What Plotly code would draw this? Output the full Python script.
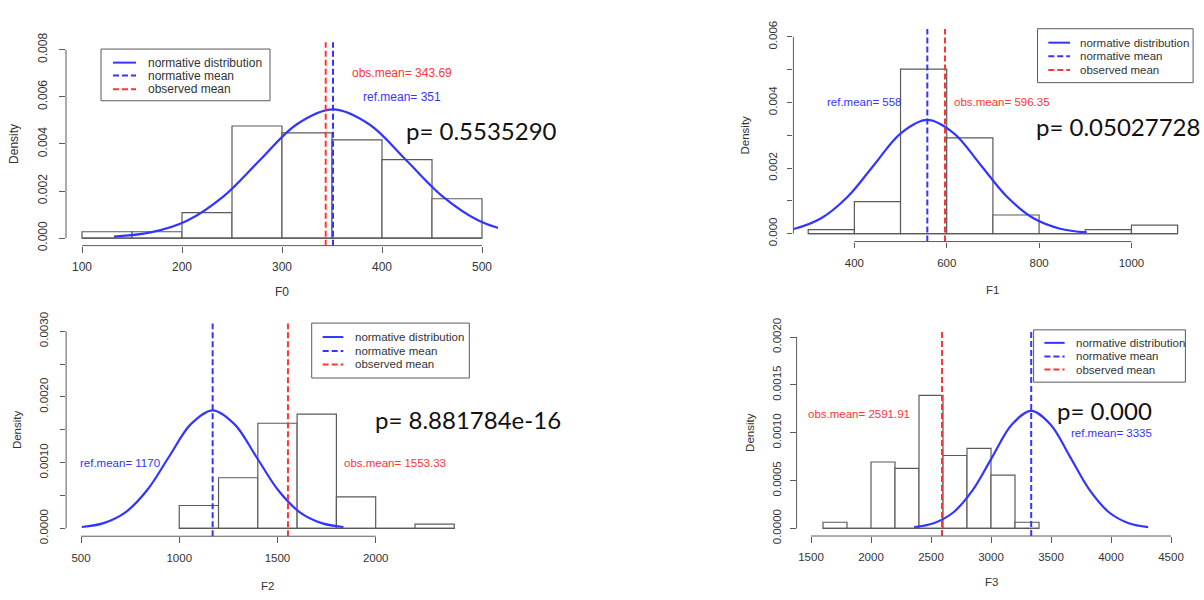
import plotly.graph_objects as go

W, H = 1204, 600

# ---------------- data ----------------
# F0 panel
f0_bin_left = [100, 150, 200, 250, 300, 350, 400, 450]
f0_bin_width = 50
f0_density = [0.00027, 0.00027, 0.00108, 0.00476, 0.00447, 0.00417, 0.00333, 0.00167]
f0_curve_x = [132, 168.5, 205, 241.5, 278, 314.5, 351, 387.5, 424, 460.5, 497, 533.5, 570]
f0_curve_y = [0.000061, 0.00024, 0.00074, 0.001775, 0.003315, 0.004823, 0.005465,
              0.004823, 0.003315, 0.001775, 0.00074, 0.00024, 0.000061]
f0_ref_mean = 351
f0_obs_mean = 343.69
f0_p_text = "p= 0.5535290"
f0_xticks = [100, 200, 300, 400, 500]
f0_xtick_labels = ["100", "200", "300", "400", "500"]
f0_yticks = [0, 0.002, 0.004, 0.006, 0.008]
f0_ytick_labels = ["0.000", "0.002", "0.004", "0.006", "0.008"]

# F1 panel
f1_bin_left = [300, 400, 500, 600, 700, 800, 900, 1000]
f1_bin_width = 100
f1_density = [0.000125, 0.00098, 0.00502, 0.00292, 0.00057, 0.0, 0.000125, 0.00026]
f1_curve_x = [213, 270.5, 328, 385.5, 443, 500.5, 558, 615.5, 673, 730.5, 788, 845.5, 903]
f1_curve_y = [0.0000385, 0.000152, 0.000469, 0.001126, 0.002104, 0.003061, 0.003469,
              0.003061, 0.002104, 0.001126, 0.000469, 0.000152, 0.0000385]
f1_ref_mean = 558
f1_obs_mean = 596.35
f1_p_text = "p= 0.05027728"
f1_xticks = [400, 600, 800, 1000]
f1_xtick_labels = ["400", "600", "800", "1000"]
f1_yticks = [0, 0.001, 0.002, 0.003, 0.004, 0.005, 0.006]
f1_ytick_labels = ["0.000", "", "0.002", "", "0.004", "", "0.006"]

# F2 panel
f2_bin_left = [1000, 1200, 1400, 1600, 1800, 2000, 2200]
f2_bin_width = 200
f2_density = [0.000348, 0.00077, 0.0016, 0.00174, 0.00048, 0.0, 0.000063]
f2_curve_x = [504, 615, 726, 837, 948, 1059, 1170, 1281, 1392, 1503, 1614, 1725, 1836]
f2_curve_y = [0.00002, 0.000079, 0.000243, 0.000583, 0.00109, 0.001586, 0.001797,
              0.001586, 0.00109, 0.000583, 0.000243, 0.000079, 0.00002]
f2_ref_mean = 1170
f2_obs_mean = 1553.33
f2_p_text = "p= 8.881784e-16"
f2_xticks = [500, 1000, 1500, 2000]
f2_xtick_labels = ["500", "1000", "1500", "2000"]
f2_yticks = [0, 0.0005, 0.001, 0.0015, 0.002, 0.0025, 0.003]
f2_ytick_labels = ["0.0000", "", "0.0010", "", "0.0020", "", "0.0030"]

# F3 panel
f3_bin_left = [1600, 1800, 2000, 2200, 2400, 2600, 2800, 3000, 3200]
f3_bin_width = 200
f3_density = [0.000064, 0.0, 0.000694, 0.000627, 0.00139, 0.000762, 0.000836, 0.000557, 0.000064]
f3_curve_x = [2360, 2522.5, 2685, 2847.5, 3010, 3172.5, 3335, 3497.5, 3660, 3822.5, 3985, 4147.5, 4310]
f3_curve_y = [0.0000136, 0.000054, 0.000166, 0.000399, 0.000745, 0.001083, 0.001228,
              0.001083, 0.000745, 0.000399, 0.000166, 0.000054, 0.0000136]
f3_ref_mean = 3335
f3_obs_mean = 2591.91
f3_p_text = "p= 0.000"
f3_xticks = [1500, 2000, 2500, 3000, 3500, 4000, 4500]
f3_xtick_labels = ["1500", "2000", "2500", "3000", "3500", "4000", "4500"]
f3_yticks = [0, 0.0005, 0.001, 0.0015, 0.002]
f3_ytick_labels = ["0.0000", "0.0005", "0.0010", "0.0015", "0.0020"]

legend_labels = ["normative distribution", "normative mean", "observed mean"]

# ---------------- styles ----------------
FONT = "Liberation Sans, Arial, sans-serif"
PFONT = "Lato, sans-serif"
BLUE = "#3434ff"
RED = "#ff3434"
AXC = "#5a5a5a"
TXT = "#333333"
BARC = "#5a5a5a"
DASH = "6px,3px"

panels = [
    dict(title="F0", left=f0_bin_left, bw=f0_bin_width, dens=f0_density,
         cx=f0_curve_x, cy=f0_curve_y, ref=f0_ref_mean, obs=f0_obs_mean, p=f0_p_text,
         xt=f0_xticks, xtl=f0_xtick_labels, yt=f0_yticks, ytl=f0_ytick_labels,
         xlim=(100, 500), ylim=(0, 0.008),
         ref_pos=(420, 0.006), obs_pos=(420, 0.007),
         dom_x=(66, 498), dom_y=(32.2, 242.3), fs=12, tl=6, xso=4, yso=7,
         ytitle_x=14, xtitle_y=290,
         leg=dict(box=(101, 39.3, 270, 92.7), rows=(53.3, 66.7, 80.7), samp=(113, 136), tx=146.7),
         p_pos=(404, 123.7)),
    dict(title="F1", left=f1_bin_left, bw=f1_bin_width, dens=f1_density,
         cx=f1_curve_x, cy=f1_curve_y, ref=f1_ref_mean, obs=f1_obs_mean, p=f1_p_text,
         xt=f1_xticks, xtl=f1_xtick_labels, yt=f1_yticks, ytl=f1_ytick_labels,
         xlim=(300, 1100), ylim=(0, 0.006),
         ref_pos=(420, 0.004), obs_pos=(720, 0.004),
         dom_x=(793.4, 1192.4), dom_y=(18.6, 238.1), fs=11.5, tl=5.5, xso=5, yso=5,
         ytitle_x=745.2, xtitle_y=288.3,
         leg=dict(box=(1037.5, 18.3, 1193.1, 74), rows=(32.7, 46.7, 61), samp=(1048.3, 1070), tx=1079.3),
         p_pos=(1034, 119.7)),
    dict(title="F2", left=f2_bin_left, bw=f2_bin_width, dens=f2_density,
         cx=f2_curve_x, cy=f2_curve_y, ref=f2_ref_mean, obs=f2_obs_mean, p=f2_p_text,
         xt=f2_xticks, xtl=f2_xtick_labels, yt=f2_yticks, ytl=f2_ytick_labels,
         xlim=(500, 2400), ylim=(0, 0.003),
         ref_pos=(700, 0.001), obs_pos=(2100, 0.001),
         dom_x=(66.1, 469.2), dom_y=(322.6, 542.4), fs=11.5, tl=5.5, xso=5, yso=7,
         ytitle_x=17.3, xtitle_y=593.3,
         leg=dict(box=(311.7, 322.3, 469.3, 379), rows=(336.7, 351, 365), samp=(322.7, 343.3), tx=354),
         p_pos=(373, 421.7)),
    dict(title="F3", left=f3_bin_left, bw=f3_bin_width, dens=f3_density,
         cx=f3_curve_x, cy=f3_curve_y, ref=f3_ref_mean, obs=f3_obs_mean, p=f3_p_text,
         xt=f3_xticks, xtl=f3_xtick_labels, yt=f3_yticks, ytl=f3_ytick_labels,
         xlim=(1500, 4500), ylim=(0, 0.002),
         ref_pos=(4000, 0.001), obs_pos=(1900, 0.0012),
         dom_x=(796.6, 1185.4), dom_y=(328.8, 542.2), fs=11.5, tl=5.5, xso=5, yso=5,
         ytitle_x=750.2, xtitle_y=590,
         leg=dict(box=(1033.6, 329.3, 1185.4, 383.3), rows=(342.7, 356.7, 370.3), samp=(1044.4, 1064.6), tx=1074.6),
         p_pos=(1055, 413)),
]


def fx(px):
    return px / W


def fy(py):
    return 1 - py / H


fig = go.Figure()
shapes = []
annotations = []
layout = {}

for i, pnl in enumerate(panels, start=1):
    sfx = "" if i == 1 else str(i)
    xa, ya = "x" + sfx, "y" + sfx
    fs = pnl["fs"]

    # histogram bars
    fig.add_trace(go.Bar(
        x=pnl["left"], y=pnl["dens"], width=pnl["bw"], offset=0,
        xaxis=xa, yaxis=ya, showlegend=False,
        marker=dict(color="white", line=dict(color=BARC, width=1.2)),
        hoverinfo="skip"))
    # histogram baseline (covers empty bins)
    shapes.append(dict(type="line", xref=xa, yref=ya, layer="above",
                       x0=pnl["left"][0], x1=pnl["left"][-1] + pnl["bw"], y0=0, y1=0,
                       line=dict(color=BARC, width=1.2)))
    # normative curve
    fig.add_trace(go.Scatter(
        x=pnl["cx"], y=pnl["cy"], mode="lines", xaxis=xa, yaxis=ya,
        line=dict(color=BLUE, width=2.2, shape="spline"), showlegend=False,
        cliponaxis=True, hoverinfo="skip"))

    # mean lines
    shapes.append(dict(type="line", xref=xa, yref=ya + " domain",
                       x0=pnl["ref"], x1=pnl["ref"], y0=0, y1=1,
                       line=dict(color=BLUE, width=2, dash=DASH)))
    shapes.append(dict(type="line", xref=xa, yref=ya + " domain",
                       x0=pnl["obs"], x1=pnl["obs"], y0=0, y1=1,
                       line=dict(color=RED, width=2, dash=DASH)))

    # R-style axis lines (from first to last tick)
    shapes.append(dict(type="line", xref=xa, yref=ya + " domain",
                       x0=pnl["xt"][0], x1=pnl["xt"][-1], y0=0, y1=0,
                       line=dict(color=AXC, width=1)))
    shapes.append(dict(type="line", xref=xa + " domain", yref=ya,
                       x0=0, x1=0, y0=pnl["yt"][0], y1=pnl["yt"][-1],
                       line=dict(color=AXC, width=1)))

    xlo, xhi = pnl["xlim"]
    ylo, yhi = pnl["ylim"]
    xpad = 0.04 * (xhi - xlo)
    ypad = 0.04 * (yhi - ylo)
    tickfont = dict(family=FONT, size=fs, color=TXT)
    layout["xaxis" + sfx] = dict(
        domain=[fx(pnl["dom_x"][0]), fx(pnl["dom_x"][1])], anchor=ya,
        range=[xlo - xpad, xhi + xpad], showgrid=False, zeroline=False, showline=False,
        ticks="outside", ticklen=pnl["tl"], tickwidth=1, tickcolor=AXC,
        tickmode="array", tickvals=pnl["xt"], ticktext=pnl["xtl"], tickfont=tickfont,
        ticklabelstandoff=pnl["xso"], fixedrange=True)
    layout["yaxis" + sfx] = dict(
        domain=[fy(pnl["dom_y"][1]), fy(pnl["dom_y"][0])], anchor=xa,
        range=[ylo - ypad, yhi + ypad], showgrid=False, zeroline=False, showline=False,
        ticks="outside", ticklen=pnl["tl"], tickwidth=1, tickcolor=AXC,
        tickmode="array", tickvals=pnl["yt"], ticktext=pnl["ytl"], tickfont=tickfont,
        tickangle=-90, ticklabelstandoff=pnl["yso"], fixedrange=True)

    # axis titles
    annotations.append(dict(text=pnl["title"], xref=xa + " domain", x=0.5,
                            yref="paper", y=fy(pnl["xtitle_y"]), showarrow=False,
                            xanchor="center", yanchor="middle",
                            font=dict(family=FONT, size=fs, color=TXT)))
    annotations.append(dict(text="Density", xref="paper", x=fx(pnl["ytitle_x"]),
                            yref=ya + " domain", y=0.5, showarrow=False, textangle=-90,
                            xanchor="center", yanchor="middle",
                            font=dict(family=FONT, size=fs, color=TXT)))

    # mean labels
    annotations.append(dict(text="ref.mean= " + str(pnl["ref"]), xref=xa, yref=ya,
                            x=pnl["ref_pos"][0], y=pnl["ref_pos"][1], showarrow=False,
                            xanchor="center", yanchor="middle",
                            font=dict(family=FONT, size=fs, color=BLUE)))
    annotations.append(dict(text="obs.mean= " + str(pnl["obs"]), xref=xa, yref=ya,
                            x=pnl["obs_pos"][0], y=pnl["obs_pos"][1], showarrow=False,
                            xanchor="center", yanchor="middle",
                            font=dict(family=FONT, size=fs, color=RED)))

    # p value (slide text)
    annotations.append(dict(text=pnl["p"], xref="paper", yref="paper",
                            x=fx(pnl["p_pos"][0]), y=fy(pnl["p_pos"][1]), showarrow=False,
                            xanchor="left", yanchor="middle",
                            font=dict(family=PFONT, size=24, color="#111111")))

    # legend (R style box)
    lg = pnl["leg"]
    bx0, by0, bx1, by1 = lg["box"]
    shapes.append(dict(type="rect", xref="paper", yref="paper",
                       x0=fx(bx0), x1=fx(bx1), y0=fy(by1), y1=fy(by0),
                       fillcolor="white", line=dict(color=AXC, width=1)))
    styles = [(BLUE, None), (BLUE, DASH), (RED, DASH)]
    for (col, dsh), ry, lab in zip(styles, lg["rows"], legend_labels):
        ln = dict(color=col, width=2)
        if dsh:
            ln["dash"] = dsh
        shapes.append(dict(type="line", xref="paper", yref="paper",
                           x0=fx(lg["samp"][0]), x1=fx(lg["samp"][1]), y0=fy(ry), y1=fy(ry),
                           line=ln))
        annotations.append(dict(text=lab, xref="paper", yref="paper",
                                x=fx(lg["tx"] - 1), y=fy(ry), showarrow=False,
                                xanchor="left", yanchor="middle",
                                font=dict(family=FONT, size=fs, color=TXT)))

fig.update_layout(
    width=W, height=H, margin=dict(l=0, r=0, t=0, b=0),
    paper_bgcolor="white", plot_bgcolor="white",
    showlegend=False, barmode="overlay",
    shapes=shapes, annotations=annotations,
    **layout)

fig.write_html("out.html")
